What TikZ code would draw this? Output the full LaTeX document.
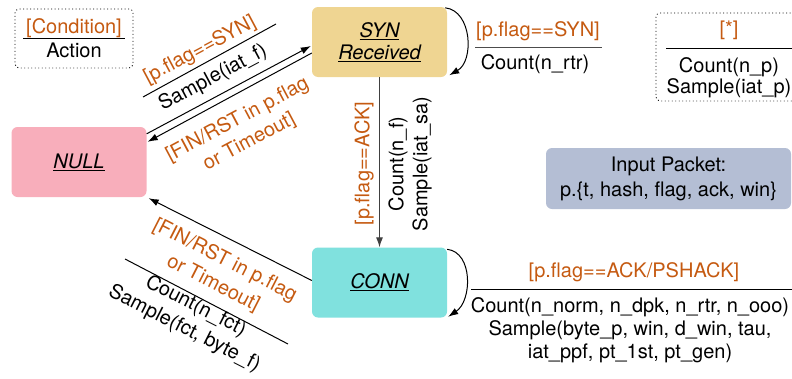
\documentclass[tikz,border=0pt]{standalone}
\usepackage{fontspec}
\setmainfont{TeX Gyre Heros}
\usetikzlibrary{arrows.meta,calc}
\definecolor{synfill}{RGB}{239,213,146}
\definecolor{nullfill}{RGB}{248,174,187}
\definecolor{connfill}{RGB}{128,225,222}
\definecolor{pktfill}{RGB}{180,190,212}
\definecolor{condc}{RGB}{197,90,17}
\begin{document}
\begin{tikzpicture}[x=1pt,y=-1pt,
  every node/.style={font=\fontsize{20}{24}\selectfont, inner sep=0pt},
  state/.style={fill=#1, rounded corners=6pt, minimum width=135pt, minimum height=70pt, align=center, font=\fontsize{20}{22}\selectfont\itshape},
  legendbox/.style={draw, line width=0.9pt, dash pattern=on 0.9pt off 2.6pt, rounded corners=4pt},
  edge/.style={line width=1pt, -{Latex[length=10pt,width=7pt]}},
  condtext/.style={text=condc},
  rule/.style={line width=1pt},
]
\useasboundingbox (0,0) rectangle (792,378);

% states
\node[state=synfill] (syn) at (379.5,42) {\underline{SYN}\\\underline{Received}};
\node[state=nullfill] (null) at (79,162) {\underline{NULL}};
\node[state=connfill] (conn) at (379.5,282.5) {\underline{CONN}};

% input packet
\node[fill=pktfill, rounded corners=6pt, minimum width=245pt, minimum height=61pt, align=center, font=\fontsize{20}{25}\selectfont] (pkt) at (668.5,178.5) {Input Packet:\\p.\{t, hash, flag, ack, win\}};

% legend
\node[legendbox, minimum width=118pt, minimum height=59pt] (legend) at (74,38.5) {};
\node[condtext, anchor=base] (lcond) at (74,33.5) {[Condition]};
\node[anchor=base] (lact) at (74,57.3) {Action};
\draw[rule] (23,38) -- (125,38);

% star box
\node[legendbox, minimum width=142pt, minimum height=88pt] (star) at (727,57) {};
\node[condtext, anchor=base] (sstar) at (729,35) {[*]};
\draw[rule] (666,48) -- (792,48);
\node[anchor=base] (scount) at (729,72) {Count(n\_p)};
\node[anchor=base] (ssample) at (729,93) {Sample(iat\_p)};

% edges
\draw[edge] ($(null.north east)+(0,7)$) -- ($(syn.west)+(-1,4)$);
\draw[edge] ($(syn.west)+(0,11)$) -- ($(null.north east)+(1,15)$);
\draw[edge, black!75] (syn.south) -- (conn.north);
\draw[edge] ($(conn.west)+(0,-2)$) -- ($(null.south east)+(2,1)$);
\draw[edge] ($(syn.north east)+(-2,1)$) .. controls +(27,3) and +(25,-14) .. ($(syn.south east)+(2,-2)$);
\draw[edge] ($(conn.north east)+(0,2)$) .. controls +(26,3) and +(24,-16) .. ($(conn.south east)+(1,-1)$);

% NULL -> SYN labels
\node[condtext, rotate=28] (l1c) at (200,50) {[p.flag==SYN]};
\draw[rule] (143,97) -- (276,24);
\node[rotate=28] (l1a) at (213,78) {Sample(iat\_f)};

% SYN -> NULL label
\node[condtext, rotate=28, align=center, font=\fontsize{20}{25}\selectfont] (l2c) at (243.5,131) {[FIN/RST in p.flag\\or Timeout]};

% SYN self loop label
\node[condtext, anchor=base] (l3c) at (538,36) {[p.flag==SYN]};
\draw[rule, black!70] (475,47) -- (602,47);
\node[anchor=base] (l3a) at (535,69) {Count(n\_rtr)};

% SYN -> CONN labels
\node[condtext, rotate=90] (l4c) at (364,163.5) {[p.flag==ACK]};
\node[rotate=90, align=center, font=\fontsize{20}{24}\selectfont] (l4a) at (410,164) {Count(n\_f)\\Sample(iat\_sa)};

% CONN -> NULL labels
\node[condtext, rotate=-27, align=center, font=\fontsize{20}{26}\selectfont] (l5c) at (219,272) {[FIN/RST in p.flag\\or Timeout]};
\draw[rule] (125,259) -- (288,344);
\node[rotate=-27, align=center, font=\fontsize{20}{25}\selectfont] (l5a) at (190,317.5) {Count(n\_fct)\\Sample(fct, byte\_f)};

% CONN self loop label
\node[condtext, anchor=base] (l6c) at (634,277) {[p.flag==ACK/PSHACK]};
\draw[rule] (471,289) -- (792,289);
\node[anchor=base] (l6a) at (630,312) {Count(n\_norm, n\_dpk, n\_rtr, n\_ooo)};
\node[anchor=base] (l6b) at (630,335) {Sample(byte\_p, win, d\_win, tau,};
\node[anchor=base] (l6d) at (630,358) {iat\_ppf, pt\_1st, pt\_gen)};
\end{tikzpicture}
\end{document}
